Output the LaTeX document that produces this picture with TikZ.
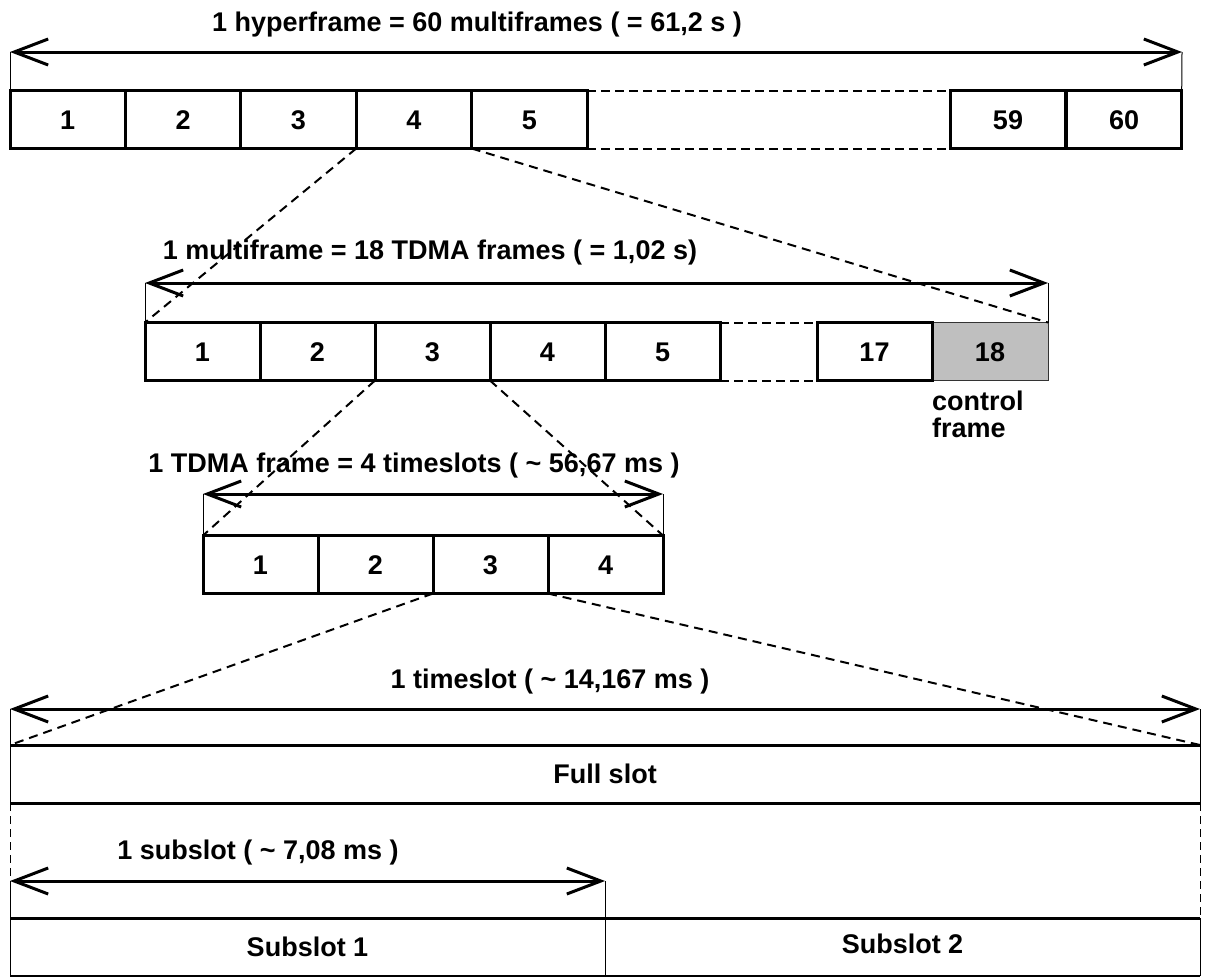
\documentclass[tikz,border=0pt]{standalone}
\usepackage{fontspec}
\setmainfont{Liberation Sans}
\usetikzlibrary{arrows.meta}
\newcommand\lblfont{\fontsize{27}{27}\selectfont\bfseries}
\begin{document}
\begin{tikzpicture}[x=1pt,y=-1pt,
  cell/.style={draw, line width=3pt, minimum width=115.4pt, minimum height=58pt,
    inner sep=0pt, outer sep=0pt, text height=19pt, text depth=0pt, font=\lblfont},
  ctrl/.style={cell, draw=black!80, line width=0.9pt, fill=black!25},
  lbl/.style={inner sep=0pt, outer sep=0pt, font=\lblfont},
  span/.style={line width=3pt,
    {Straight Barb[length=34pt,width=26pt,line width=3pt]}-{Straight Barb[length=34pt,width=26pt,line width=3pt]}},
  tick/.style={line width=1pt},
  gapline/.style={line width=2pt, dash pattern=on 9pt off 5pt},
  zoomline/.style={line width=2pt, dash pattern=on 9pt off 6pt},
  edge/.style={line width=3pt},
  side/.style={line width=1pt},
]
\useasboundingbox (0,0) rectangle (1209,977);

% ---- hyperframe: 60 multiframes ----
\foreach \i in {1,...,5}
  \node[cell] (h\i) at ({10+115.4*(\i-0.5)},119.5) {\i};
\node[cell] (h59) at (1008,119.5) {59};
\node[cell] (h60) at (1124,119.5) {60};
\draw[gapline] (h5.north east) -- (h59.north west);
\draw[gapline] (h5.south east) -- (h59.south west);
\coordinate (hl) at (10,52);
\coordinate (hr) at (1182,52);
\draw[tick] (hl) -- (h1.north west);
\draw[tick] (hr) -- (h60.north east);
\draw[span] (hl) -- (hr);
\node[lbl] (ht) at (477,25) {1 hyperframe = 60 multiframes ( = 61,2 s )};

% ---- multiframe: 18 TDMA frames ----
\foreach \i in {1,...,5}
  \node[cell, minimum width=115pt] (m\i) at ({145+115*(\i-0.5)},351.5) {\i};
\node[ctrl, minimum width=116pt] (m18) at (990,351.5) {18};
\node[cell, minimum width=115pt] (m17) at (874.5,351.5) {17};
\draw[gapline] (m5.north east) -- (m17.north west);
\draw[gapline] (m5.south east) -- (m17.south west);
\coordinate (ml) at (145,283);
\coordinate (mr) at (1048,283);
\draw[tick] (ml) -- (m1.north west);
\draw[tick] (mr) -- (m18.north east);
\draw[span] (ml) -- (mr);
\node[lbl] (mt) at (430,253) {1 multiframe = 18 TDMA frames ( = 1,02 s)};
\node[lbl, align=left, anchor=north west] (cf) at (932,391) {control\\frame};
\draw[zoomline] (h4.south west) -- (m1.north west);
\draw[zoomline] (h4.south east) -- (m18.north east);

% ---- TDMA frame: 4 timeslots ----
\foreach \i in {1,...,4}
  \node[cell, minimum width=115pt] (t\i) at ({203+115*(\i-0.5)},564.5) {\i};
\coordinate (tl) at (203,494);
\coordinate (tr) at (663,494);
\draw[tick] (tl) -- (t1.north west);
\draw[tick] (tr) -- (t4.north east);
\draw[span] (tl) -- (tr);
\node[lbl] (tt) at (414,466) {1 TDMA frame = 4 timeslots ( \textasciitilde{} 56,67 ms )};
\draw[zoomline] (m3.south west) -- (t1.north west);
\draw[zoomline] (m3.south east) -- (t4.north east);

% ---- timeslot: full slot frame ----
\coordinate (fnw) at (10,745);
\coordinate (fne) at (1200,745);
\coordinate (fsw) at (10,803);
\coordinate (fse) at (1200,803);
\node[lbl] (fs) at (605,774) {Full slot};
\draw[edge] (fnw) -- (fne);
\draw[edge] (fsw) -- (fse);
\draw[side] (fnw) -- (fsw);
\draw[side] (fne) -- (fse);
\coordinate (fl) at (10,709);
\coordinate (fr) at (1200,709);
\draw[tick] (fl) -- (fnw);
\draw[tick] (fr) -- (fne);
\draw[span] (fl) -- (fr);
\node[lbl] (ft) at (550,682) {1 timeslot ( \textasciitilde{} 14,167 ms )};
\draw[zoomline] (t3.south west) -- (fnw);
\draw[zoomline] (t3.south east) -- (fne);

% ---- subslots ----
\coordinate (snw) at (10,918);
\coordinate (smn) at (605,918);
\coordinate (sne) at (1200,918);
\coordinate (ssw) at (10,976);
\coordinate (sms) at (605,976);
\coordinate (sse) at (1200,976);
\node[lbl] (s1) at (307.5,947) {Subslot 1};
\node[lbl] (s2) at (902.5,944) {Subslot 2};
\draw[edge] (snw) -- (sne);
\draw[line width=2pt] (ssw) -- (sse);
\draw[side] (snw) -- (ssw);
\draw[side] (smn) -- (sms);
\draw[side] (sne) -- (sse);
\coordinate (sl) at (10,881);
\coordinate (sr) at (605,881);
\draw[tick, dash pattern=on 8pt off 5pt] (fsw) -- (sl);
\draw[tick, dash pattern=on 8pt off 5pt] (fse) -- (sne);
\draw[tick] (sl) -- (snw);
\draw[tick] (sr) -- (smn);
\draw[span] (sl) -- (sr);
\node[lbl] (st) at (258,853) {1 subslot ( \textasciitilde{} 7,08 ms )};
\end{tikzpicture}
\end{document}
